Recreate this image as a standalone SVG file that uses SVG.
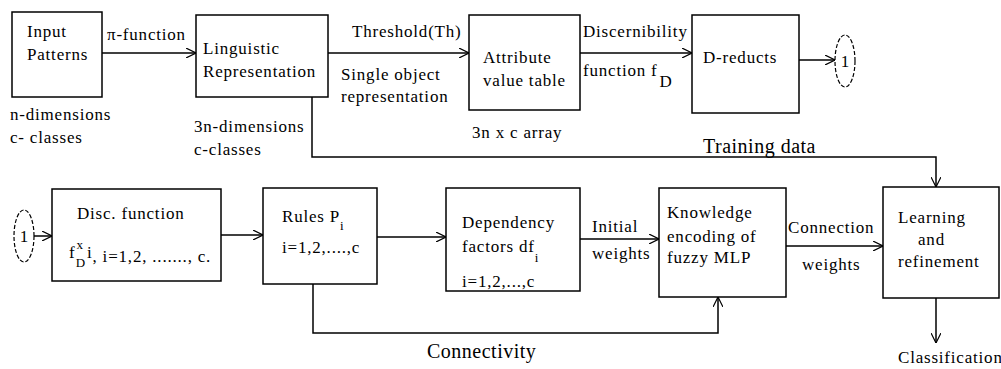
<svg xmlns="http://www.w3.org/2000/svg" width="1001" height="369" viewBox="0 0 1001 369">
<defs>
<marker id="arr" viewBox="0 0 10 10" refX="10" refY="5" markerWidth="10" markerHeight="10" markerUnits="userSpaceOnUse" orient="auto">
<path d="M0,0 L10,5 L0,10" fill="none" stroke="#000" stroke-width="1.2"/>
</marker>
</defs>
<style>
.box{fill:#fff;stroke:#000;stroke-width:1.5}
.con{fill:none;stroke:#000;stroke-width:1.5;marker-end:url(#arr)}
.ref{fill:#fff;stroke:#000;stroke-width:1.2;stroke-dasharray:4 2}
</style>
<rect width="1001" height="369" fill="#fff"/>
<g id="connectors">
<path class="con" d="M102,53 H196"/>
<path class="con" d="M328,53 H469"/>
<path class="con" d="M580,53 H692"/>
<path class="con" d="M799,60 H835"/>
<path class="con" d="M312,97 V157 H936 V187"/>
<path class="con" d="M34,236 H52"/>
<path class="con" d="M221,235 H263"/>
<path class="con" d="M377,237 H446"/>
<path class="con" d="M580,239 H659"/>
<path class="con" d="M313,284 V333 H718 V297"/>
<path class="con" d="M786,246 H883"/>
<path class="con" d="M936,298 V343"/>
<text font-family="Liberation Serif" font-size="17" letter-spacing="0.8" x="107" y="40">π-function</text>
<text font-family="Liberation Serif" font-size="17" letter-spacing="0.8" x="352" y="37">Threshold(Th)</text>
<text font-family="Liberation Serif" font-size="17" letter-spacing="0.8" x="341" y="80">Single object</text>
<text font-family="Liberation Serif" font-size="17" letter-spacing="0.8" x="341" y="102">representation</text>
<text font-family="Liberation Serif" font-size="17" letter-spacing="0.8" x="583" y="37">Discernibility</text>
<text font-family="Liberation Serif" font-size="17" letter-spacing="0.8" x="583" y="76">function f<tspan dx="2" dy="11">D</tspan></text>
<text font-family="Liberation Serif" font-size="20" letter-spacing="0.5" x="703" y="153">Training data</text>
<text font-family="Liberation Serif" font-size="17" letter-spacing="0.8" x="592" y="232">Initial</text>
<text font-family="Liberation Serif" font-size="17" letter-spacing="0.8" x="592" y="259">weights</text>
<text font-family="Liberation Serif" font-size="17" letter-spacing="0.8" x="788" y="233">Connection</text>
<text font-family="Liberation Serif" font-size="17" letter-spacing="0.8" x="802" y="270">weights</text>
<text font-family="Liberation Serif" font-size="20" letter-spacing="0.5" x="427" y="358">Connectivity</text>
<text font-family="Liberation Serif" font-size="17" letter-spacing="0.8" x="898" y="363">Classification</text>
</g>
<g id="input">
<rect class="box" x="12" y="12" width="90" height="85"/>
<text font-family="Liberation Serif" font-size="17" letter-spacing="0.8" x="27" y="37">Input</text>
<text font-family="Liberation Serif" font-size="17" letter-spacing="0.8" x="27" y="60">Patterns</text>
<text font-family="Liberation Serif" font-size="17" letter-spacing="0.8" x="10" y="120">n-dimensions</text>
<text font-family="Liberation Serif" font-size="17" letter-spacing="0.8" x="10" y="143">c- classes</text>
</g>
<g id="linguistic">
<rect class="box" x="196" y="15" width="132" height="82"/>
<text font-family="Liberation Serif" font-size="17" letter-spacing="0.8" x="203" y="54">Linguistic</text>
<text font-family="Liberation Serif" font-size="17" letter-spacing="0.8" x="203" y="77">Representation</text>
<text font-family="Liberation Serif" font-size="17" letter-spacing="0.8" x="194" y="132">3n-dimensions</text>
<text font-family="Liberation Serif" font-size="17" letter-spacing="0.8" x="194" y="155">c-classes</text>
</g>
<g id="attribute">
<rect class="box" x="469" y="15" width="111" height="95"/>
<text font-family="Liberation Serif" font-size="17" letter-spacing="0.8" x="483" y="63">Attribute</text>
<text font-family="Liberation Serif" font-size="17" letter-spacing="0.8" x="483" y="86">value table</text>
<text font-family="Liberation Serif" font-size="17" letter-spacing="0.8" x="472" y="138">3n x c array</text>
</g>
<g id="dreducts">
<rect class="box" x="692" y="15" width="107" height="98"/>
<text font-family="Liberation Serif" font-size="17" letter-spacing="0.8" x="703" y="63">D-reducts</text>
</g>
<g id="ref1">
<ellipse class="ref" cx="845" cy="61" rx="10" ry="26"/>
<text font-family="Liberation Serif" font-size="17" x="845" y="67" text-anchor="middle">1</text>
</g>
<g id="ref2">
<ellipse class="ref" cx="24" cy="236" rx="10" ry="26"/>
<text font-family="Liberation Serif" font-size="17" x="24" y="242" text-anchor="middle">1</text>
</g>
<g id="disc">
<rect class="box" x="52" y="189" width="169" height="92"/>
<text font-family="Liberation Serif" font-size="17" letter-spacing="0.8" x="77" y="219">Disc. function</text>
<text font-family="Liberation Serif" font-size="17" letter-spacing="0.8" x="69" y="258">f<tspan font-size="13" dx="1" dy="-9">x</tspan><tspan font-size="13" dx="-8" dy="18">D</tspan><tspan dx="1" dy="-9">i</tspan><tspan dy="4">, i=1,2, ......., c.</tspan></text>
</g>
<g id="rules">
<rect class="box" x="263" y="188" width="114" height="96"/>
<text font-family="Liberation Serif" font-size="17" letter-spacing="0.8" x="282" y="222">Rules  P<tspan font-size="13" dy="8">i</tspan></text>
<text font-family="Liberation Serif" font-size="17" letter-spacing="0.8" x="282" y="253">i=1,2,....,c</text>
</g>
<g id="dependency">
<rect class="box" x="446" y="188" width="134" height="103"/>
<text font-family="Liberation Serif" font-size="17" letter-spacing="0.8" x="462" y="228">Dependency</text>
<text font-family="Liberation Serif" font-size="17" letter-spacing="0.8" x="462" y="252">factors  df<tspan font-size="13" dy="10">i</tspan></text>
<text font-family="Liberation Serif" font-size="17" letter-spacing="0.8" x="462" y="287">i=1,2,...,c</text>
</g>
<g id="knowledge">
<rect class="box" x="659" y="188" width="127" height="109"/>
<text font-family="Liberation Serif" font-size="17" letter-spacing="0.8" x="667" y="218">Knowledge</text>
<text font-family="Liberation Serif" font-size="17" letter-spacing="0.8" x="667" y="242">encoding of</text>
<text font-family="Liberation Serif" font-size="17" letter-spacing="0.8" x="667" y="263">fuzzy MLP</text>
</g>
<g id="learning">
<rect class="box" x="883" y="187" width="116" height="111"/>
<text font-family="Liberation Serif" font-size="17" letter-spacing="0.8" x="898" y="223">Learning</text>
<text font-family="Liberation Serif" font-size="17" letter-spacing="0.8" x="918" y="245">and</text>
<text font-family="Liberation Serif" font-size="17" letter-spacing="0.8" x="898" y="267">refinement</text>
</g>
</svg>
